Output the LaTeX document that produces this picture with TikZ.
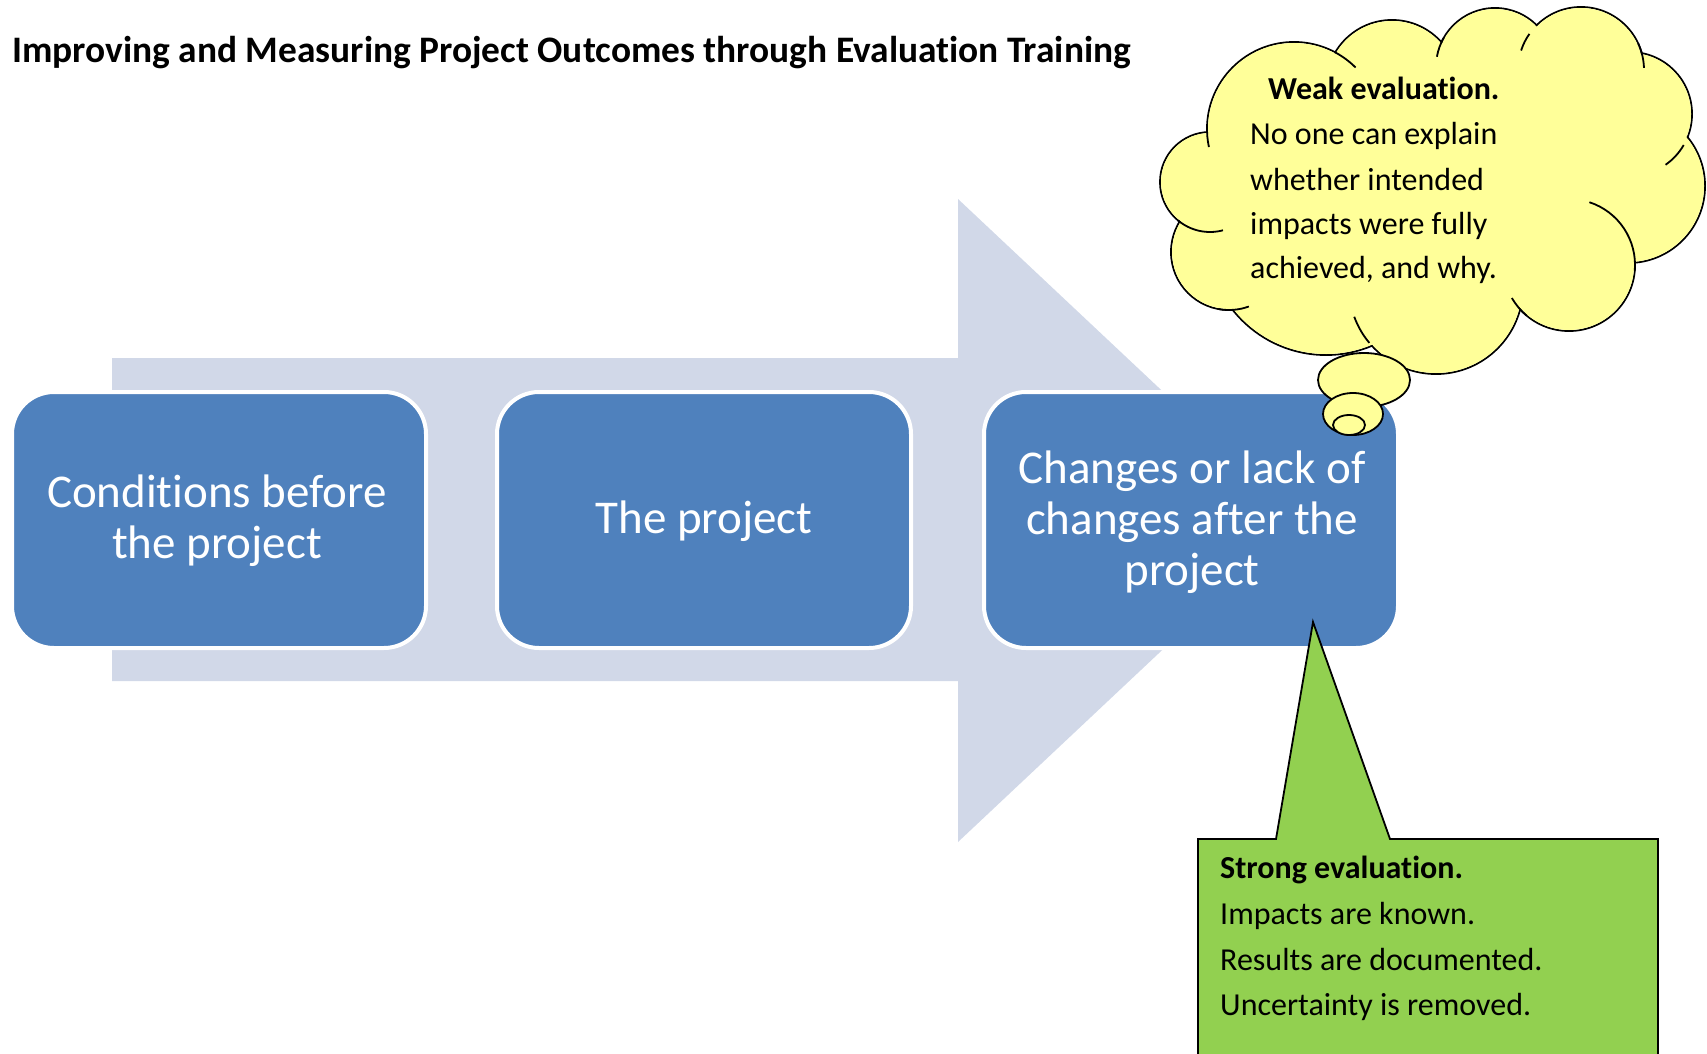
\documentclass[tikz,border=0pt]{standalone}
\usepackage{fontspec}
\setmainfont{Carlito}[Ligatures=NoCommon]
\definecolor{arrowc}{RGB}{209,216,232}
\definecolor{boxc}{RGB}{79,129,189}
\definecolor{cloudc}{RGB}{255,255,153}
\definecolor{greenc}{RGB}{146,208,80}
\begin{document}
\begin{tikzpicture}[x=1pt,y=-1pt,
  boxstyle/.style={draw=white, line width=4pt, fill=boxc, rounded corners=42pt,
    minimum width=414pt, minimum height=256pt, inner sep=0pt},
  boxtext/.style={anchor=base, text=white, inner sep=0pt,
    font=\fontsize{47}{51}\selectfont},
  calltext/.style={anchor=base west, inner sep=0pt,
    font=\fontsize{32}{44}\selectfont},
  outl/.style={draw=black, line width=1.8pt},
]
\path[use as bounding box] (0,0) rectangle (1707,1054);
\clip (0,0) rectangle (1707,1054);

% big background arrow
\fill[arrowc] (112,358) -- (958,358) -- (958,199) -- (1300,520.5)
  -- (958,842) -- (958,681) -- (112,681) -- cycle;

% boxes
\node[boxstyle] (b1) at (219,520) {};
\node[boxstyle] (b2) at (704,520) {};
\node[boxstyle] (b3) at (1191,520) {};

\node[boxtext] (b1l1) at (217,507) {Conditions before};
\node[boxtext] (b1l2) at (217,558) {the project};
\node[boxtext] (b2l1) at (704,533) {The project};
\node[boxtext] (b3l1) at (1192,483) {Changes or lack of};
\node[boxtext] (b3l2) at (1192,534) {changes after the};
\node[boxtext] (b3l3) at (1192,585) {project};

% thought cloud: outline of the union of puffs
\foreach \cx/\cy/\r in {1210/182/50, 1294/129/87, 1392/86/66, 1495/67/59,
  1581/70/63, 1630/114/62, 1628/186/77, 1569/265/66, 1436/287/87,
  1326/236/119, 1229/252/58}
  \draw[outl] (\cx,\cy) circle[radius=\r];
\foreach \cx/\cy/\r in {1210/182/50, 1294/129/87, 1392/86/66, 1495/67/59,
  1581/70/63, 1630/114/62, 1628/186/77, 1569/265/66, 1436/287/87,
  1326/236/119, 1229/252/58}
  \fill[cloudc] (\cx,\cy) circle[radius=\r-1];
\fill[cloudc] (1215,145) -- (1340,65) -- (1438,58) -- (1530,42) -- (1635,68)
  -- (1675,140) -- (1625,255) -- (1518,298) -- (1368,335) -- (1245,295)
  -- (1190,226) -- cycle;
% inner stubs
\draw[outl] (1294,129) ++(168:87) arc[start angle=168, end angle=182, radius=87];
\draw[outl] (1210,182) ++(75:50) arc[start angle=75, end angle=130, radius=50];
\draw[outl] (1229,252) ++(70:58) arc[start angle=70, end angle=100, radius=58];
\draw[outl] (1294,129) ++(-62:87) arc[start angle=-62, end angle=-45, radius=87];
\draw[outl] (1495,67) ++(190:59) arc[start angle=190, end angle=210, radius=59];
\draw[outl] (1581,70) ++(198:63) arc[start angle=198, end angle=215, radius=63];
\draw[outl] (1581,70) ++(-25:63) arc[start angle=-25, end angle=-2, radius=63];
\draw[outl] (1630,114) ++(30:62) arc[start angle=30, end angle=55, radius=62];
\draw[outl] (1569,265) ++(-72:66) arc[start angle=-72, end angle=5, radius=66];
\draw[outl] (1569,265) ++(130:66) arc[start angle=130, end angle=150, radius=66];
\draw[outl] (1436,287) ++(140:87) arc[start angle=140, end angle=160, radius=87];

% thought bubbles
\draw[outl, fill=cloudc] (1364,380) ellipse[x radius=46, y radius=27];
\draw[outl, fill=cloudc] (1353,414) ellipse[x radius=30, y radius=21];
\draw[outl, fill=cloudc] (1349,425) ellipse[x radius=16, y radius=10];

\node[calltext, font=\bfseries\fontsize{32}{44}\selectfont] (w0) at (1268,100) {Weak evaluation.};
\node[calltext] (w1) at (1250,145) {No one can explain};
\node[calltext] (w2) at (1250,190) {whether intended};
\node[calltext] (w3) at (1250,234) {impacts were fully};
\node[calltext] (w4) at (1250,278) {achieved, and why.};

% strong evaluation callout
\coordinate (gtip) at (1313,622);
\draw[outl, fill=greenc] (1198,1064) -- (1198,839) -- (1276,839) -- (gtip)
  -- (1390,839) -- (1658,839) -- (1658,1064);
\node[calltext, font=\bfseries\fontsize{32}{44}\selectfont] (s0) at (1220,878) {Strong evaluation.};
\node[calltext] (s1) at (1220,924) {Impacts are known.};
\node[calltext] (s2) at (1220,970) {Results are documented.};
\node[calltext] (s3) at (1220,1015) {Uncertainty is removed.};

% title
\node[anchor=base west, inner sep=0pt, font=\bfseries\fontsize{37.4}{44}\selectfont]
  (title) at (12,63) {Improving and Measuring Project Outcomes through Evaluation Training};
\end{tikzpicture}
\end{document}
